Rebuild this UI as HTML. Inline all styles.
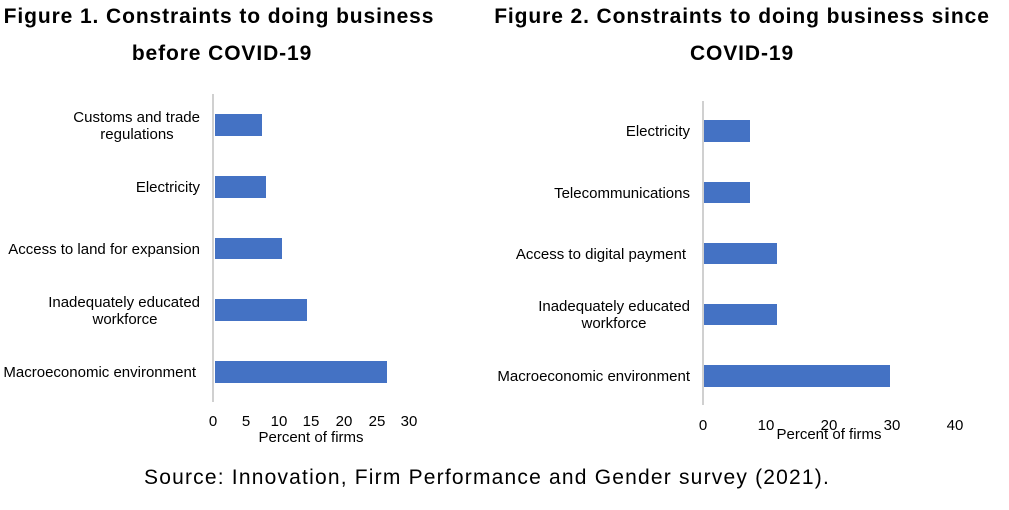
<!DOCTYPE html>
<html><head><meta charset="utf-8"><style>
body{margin:0;background:#fff;}
svg text{font-family:"Liberation Sans",Arial,sans-serif;fill:#000;}
</style></head><body>
<svg width="1009" height="505" xmlns="http://www.w3.org/2000/svg">
<g font-weight="bold" font-size="21" text-anchor="middle" letter-spacing="0.9">
<text x="219" y="23">Figure 1. Constraints to doing business</text>
<text x="222" y="60">before COVID-19</text>
<text x="742" y="23">Figure 2. Constraints to doing business since</text>
<text x="742" y="60">COVID-19</text>
</g>
<!-- Chart 1 -->
<line x1="213" y1="94" x2="213" y2="402" stroke="#d0d0d0" stroke-width="2"/>
<g fill="#4472c4">
<rect x="215" y="114" width="47" height="22"/>
<rect x="215" y="176" width="51" height="22"/>
<rect x="215" y="238" width="67" height="21"/>
<rect x="215" y="299" width="92" height="22"/>
<rect x="215" y="361" width="172" height="22"/>
</g>
<g font-size="15" text-anchor="end">
<text x="200" y="122">Customs and trade</text>
<text x="137" y="139" text-anchor="middle">regulations</text>
<text x="200" y="192">Electricity</text>
<text x="200" y="254">Access to land for expansion</text>
<text x="200" y="307">Inadequately educated</text>
<text x="125" y="324" text-anchor="middle">workforce</text>
<text x="196" y="377">Macroeconomic environment</text>
</g>
<g font-size="15" text-anchor="middle">
<text x="213" y="426">0</text><text x="246" y="426">5</text><text x="279" y="426">10</text>
<text x="311" y="426">15</text><text x="344" y="426">20</text><text x="377" y="426">25</text><text x="409" y="426">30</text>
<text x="311" y="442">Percent of firms</text>
</g>
<!-- Chart 2 -->
<line x1="703" y1="101" x2="703" y2="405" stroke="#d0d0d0" stroke-width="2"/>
<g fill="#4472c4">
<rect x="704" y="120" width="46" height="22"/>
<rect x="704" y="182" width="46" height="21"/>
<rect x="704" y="243" width="73" height="21"/>
<rect x="704" y="304" width="73" height="21"/>
<rect x="704" y="365" width="186" height="22"/>
</g>
<g font-size="15" text-anchor="end">
<text x="690" y="136">Electricity</text>
<text x="690" y="198">Telecommunications</text>
<text x="686" y="259">Access to digital payment</text>
<text x="690" y="311">Inadequately educated</text>
<text x="614" y="328" text-anchor="middle">workforce</text>
<text x="690" y="381">Macroeconomic environment</text>
</g>
<g font-size="15" text-anchor="middle">
<text x="703" y="430">0</text><text x="766" y="430">10</text><text x="829" y="430">20</text>
<text x="892" y="430">30</text><text x="955" y="430">40</text>
<text x="829" y="439">Percent of firms</text>
</g>
<text x="487" y="484" font-size="21" text-anchor="middle" letter-spacing="1.2">Source: Innovation, Firm Performance and Gender survey (2021).</text>
</svg>
</body></html>
